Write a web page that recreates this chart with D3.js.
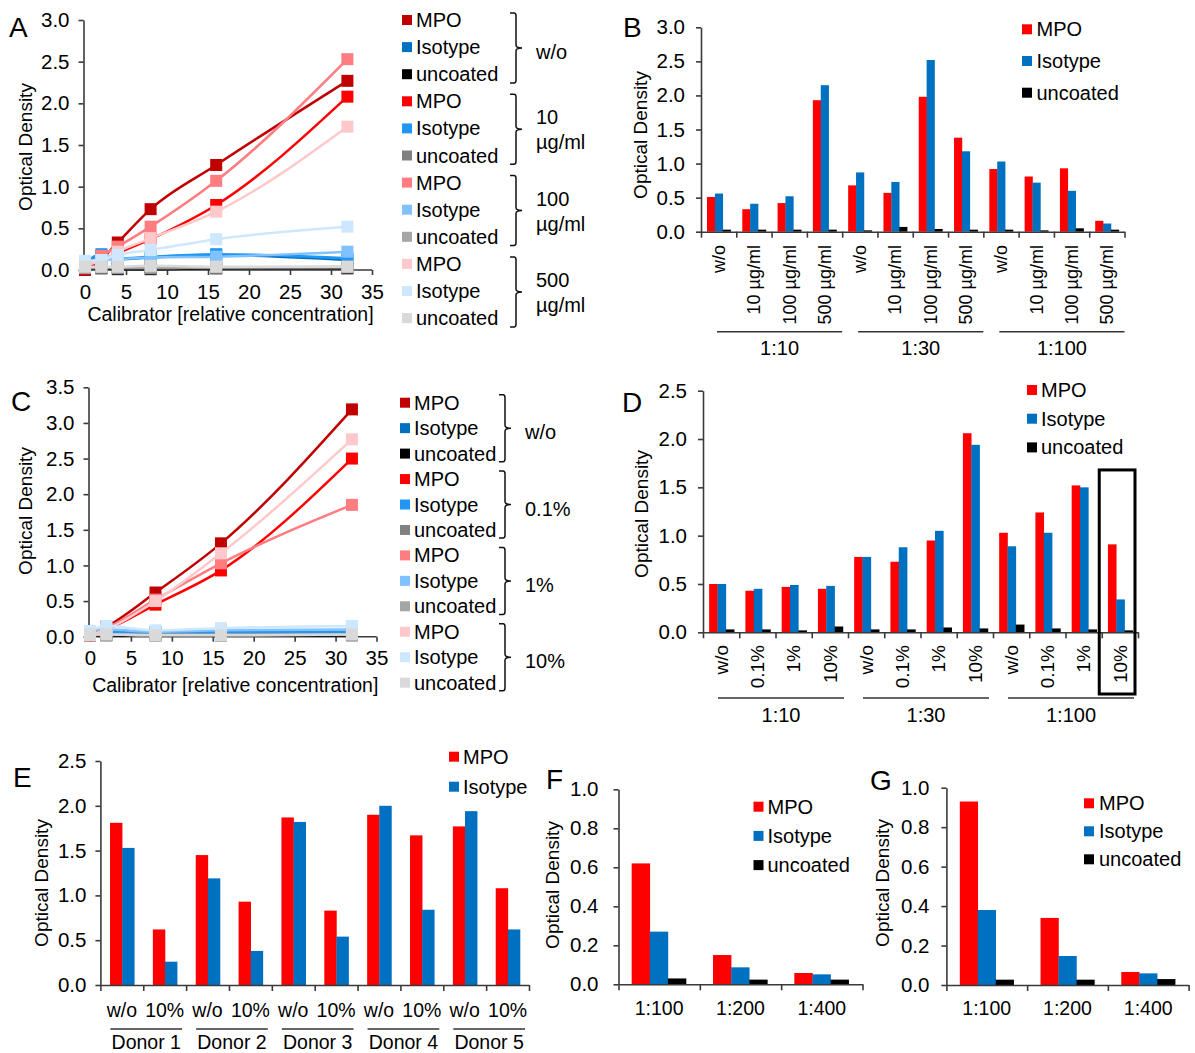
<!DOCTYPE html>
<html><head><meta charset="utf-8">
<script src="https://cdn.jsdelivr.net/npm/d3@7"></script>
<style>body{margin:0;background:#fff}</style></head>
<body>
<svg id="c" width="1195" height="1053"></svg>
<script>
// ---------------- DATA ----------------
const seriesTypes = ["MPO", "Isotype", "uncoated"];

// Panel A (calibrator curves, coating additive concentrations)
const calibA = [0, 2, 4, 8, 16, 32];
const condA = [["w/o"], ["10", "µg/ml"], ["100", "µg/ml"], ["500", "µg/ml"]];
const mpoA_wo  = [0.00, 0.13, 0.33, 0.73, 1.26, 2.27];
const isoA_wo  = [0.09, 0.17, 0.13, 0.15, 0.18, 0.12];
const uncA_wo  = [0.02, 0.02, 0.01, 0.01, 0.02, 0.02];
const mpoA_10  = [0.02, 0.10, 0.20, 0.37, 0.78, 2.08];
const isoA_10  = [0.08, 0.19, 0.14, 0.16, 0.19, 0.14];
const uncA_10  = [0.02, 0.03, 0.02, 0.02, 0.03, 0.03];
const mpoA_100 = [0.03, 0.17, 0.28, 0.52, 1.07, 2.53];
const isoA_100 = [0.08, 0.12, 0.13, 0.15, 0.16, 0.22];
const uncA_100 = [0.03, 0.03, 0.03, 0.03, 0.03, 0.04];
const mpoA_500 = [0.05, 0.12, 0.22, 0.38, 0.70, 1.72];
const isoA_500 = [0.11, 0.12, 0.18, 0.24, 0.37, 0.52];
const uncA_500 = [0.04, 0.04, 0.04, 0.05, 0.04, 0.04];

// Panel B
const catsB = ["w/o", "10 µg/ml", "100 µg/ml", "500 µg/ml", "w/o", "10 µg/ml", "100 µg/ml", "500 µg/ml", "w/o", "10 µg/ml", "100 µg/ml", "500 µg/ml"];
const groupsB = ["1:10", "1:30", "1:100"];
const mpoB = [0.51, 0.33, 0.42, 1.93, 0.68, 0.57, 1.98, 1.38, 0.92, 0.81, 0.93, 0.16];
const isoB = [0.56, 0.41, 0.52, 2.15, 0.87, 0.73, 2.52, 1.18, 1.03, 0.72, 0.60, 0.12];
const uncB = [0.03, 0.03, 0.03, 0.03, 0.02, 0.07, 0.04, 0.03, 0.03, 0.02, 0.05, 0.03];

// Panel C
const calibC = [0, 2, 8, 16, 32];
const condC = [["w/o"], ["0.1%"], ["1%"], ["10%"]];
const mpoC_wo  = [0.03, 0.14, 0.62, 1.31, 3.19];
const isoC_wo  = [0.07, 0.08, 0.05, 0.06, 0.06];
const uncC_wo  = [0.02, 0.02, 0.02, 0.02, 0.02];
const mpoC_01  = [0.02, 0.10, 0.45, 0.93, 2.50];
const isoC_01  = [0.06, 0.07, 0.06, 0.07, 0.07];
const uncC_01  = [0.02, 0.03, 0.02, 0.02, 0.03];
const mpoC_1   = [0.03, 0.12, 0.52, 1.03, 1.85];
const isoC_1   = [0.08, 0.10, 0.07, 0.09, 0.10];
const uncC_1   = [0.03, 0.03, 0.03, 0.03, 0.03];
const mpoC_10  = [0.02, 0.10, 0.50, 1.17, 2.77];
const isoC_10  = [0.08, 0.15, 0.09, 0.12, 0.15];
const uncC_10  = [0.03, 0.03, 0.02, 0.02, 0.03];

// Panel D
const catsD = ["w/o", "0.1%", "1%", "10%", "w/o", "0.1%", "1%", "10%", "w/o", "0.1%", "1%", "10%"];
const groupsD = ["1:10", "1:30", "1:100"];
const mpoD = [0.50, 0.43, 0.47, 0.45, 0.78, 0.73, 0.95, 2.06, 1.03, 1.24, 1.52, 0.91];
const isoD = [0.50, 0.45, 0.49, 0.48, 0.78, 0.88, 1.05, 1.94, 0.89, 1.03, 1.50, 0.34];
const uncD = [0.03, 0.03, 0.02, 0.06, 0.03, 0.03, 0.05, 0.04, 0.08, 0.04, 0.03, 0.02];

// Panel E
const catsE = ["w/o", "10%", "w/o", "10%", "w/o", "10%", "w/o", "10%", "w/o", "10%"];
const groupsE = ["Donor 1", "Donor 2", "Donor 3", "Donor 4", "Donor 5"];
const mpoE = [1.81, 0.62, 1.45, 0.93, 1.87, 0.83, 1.90, 1.67, 1.77, 1.08];
const isoE = [1.53, 0.26, 1.19, 0.38, 1.82, 0.54, 2.00, 0.84, 1.94, 0.62];

// Panel F
const catsF = ["1:100", "1:200", "1:400"];
const mpoF = [0.62, 0.15, 0.058];
const isoF = [0.27, 0.087, 0.051];
const uncF = [0.03, 0.024, 0.024];

// Panel G
const catsG = ["1:100", "1:200", "1:400"];
const mpoG = [0.93, 0.34, 0.066];
const isoG = [0.38, 0.147, 0.059];
const uncG = [0.027, 0.027, 0.03];

// ---------------- STYLE ----------------
const FONT = "'Liberation Sans', Arial, Helvetica, sans-serif";
const AX = "#3a3a3a";
const RED = "#ff0000", BLUE = "#0070c0", BLACK = "#000000";
const shades = [
  ["#c00000", "#0070c0", "#000000"],
  ["#ff0000", "#2196f3", "#808080"],
  ["#ff7c80", "#80c2ff", "#a6a6a6"],
  ["#ffc9cc", "#cde7ff", "#d9d9d9"]
];

const svg = d3.select("#c");
svg.append("rect").attr("width", 1195).attr("height", 1053).attr("fill", "#fff");

function text(x, y, s, size, anchor) {
  return svg.append("text").attr("x", x).attr("y", y).attr("font-family", FONT)
    .attr("font-size", size).attr("text-anchor", anchor || "start").attr("fill", "#000").text(s);
}
function panelLetter(x, y, s) { text(x, y, s, 28); }
function yTitle(x, y, s) {
  svg.append("text").attr("transform", `translate(${x},${y}) rotate(-90)`)
    .attr("text-anchor", "middle").attr("dy", "0.35em").attr("font-family", FONT)
    .attr("font-size", 19).attr("fill", "#000").text(s);
}
function styleAxis(sel, fs) {
  sel.select(".domain").attr("stroke", AX).attr("stroke-width", 1.6);
  sel.selectAll(".tick line").attr("stroke", AX).attr("stroke-width", 1.6);
  sel.selectAll("text").attr("font-family", FONT).attr("font-size", fs).attr("fill", "#000");
}
function yAxis(x0, y, ticks, pad) {
  const g = svg.append("g").attr("transform", `translate(${x0},0)`)
    .call(d3.axisLeft(y).tickValues(ticks).tickSize(5).tickSizeOuter(0).tickPadding(pad || 9).tickFormat(d3.format(".1f")));
  styleAxis(g, 20.5);
}
function legend(swX, txX, y0, dy, items, fs) {
  items.forEach((it, i) => {
    const yy = y0 + i * dy;
    svg.append("rect").attr("x", swX).attr("y", yy - 5).attr("width", 10).attr("height", 10).attr("fill", it.color);
    text(txX, yy, it.label, fs).attr("dy", "0.35em");
  });
}

function barPanel(o) {
  const y = d3.scaleLinear().domain([0, o.yMax]).range([o.bottom, o.top]);
  const band = d3.scaleBand().domain(d3.range(o.n)).range([o.left, o.right]);
  const bw = band.bandwidth();
  const sub = d3.scaleBand().domain(d3.range(o.series.length)).range([bw * o.frac[0], bw * o.frac[1]]);
  o.series.forEach((s, si) => {
    svg.append("g").selectAll("rect").data(s.values).join("rect")
      .attr("x", (d, i) => band(i) + sub(si)).attr("width", sub.bandwidth() + 0.3)
      .attr("y", d => y(d)).attr("height", d => y(0) - y(d)).attr("fill", s.color);
  });
  yAxis(o.left, y, d3.range(0, o.yMax + 1e-9, o.yStep), o.pad);
  const xi = d3.scaleLinear().domain([0, o.n]).range([o.left, o.right]);
  const gx = svg.append("g").attr("transform", `translate(0,${y(0)})`)
    .call(d3.axisBottom(xi).tickValues(d3.range(o.n + 1)).tickSize(6).tickSizeOuter(0).tickFormat(""));
  styleAxis(gx, 0);
  return { y, band };
}
function rotatedLabels(band, cats, y0, fs) {
  cats.forEach((c, i) => {
    svg.append("text").attr("transform", `translate(${band(i) + band.bandwidth() / 2},${y0}) rotate(-90)`)
      .attr("text-anchor", "end").attr("dy", "0.35em").attr("font-family", FONT)
      .attr("font-size", fs).attr("fill", "#000").text(c);
  });
}
function horizLabels(band, cats, y0, fs) {
  cats.forEach((c, i) => text(band(i) + band.bandwidth() / 2, y0, c, fs, "middle"));
}
function groupLines(band, size, groups, lineY, labelY, inL, inR, fs) {
  groups.forEach((gname, gi) => {
    const a = band(gi * size) + inL;
    const b = band(gi * size + size - 1) + band.bandwidth() - inR;
    svg.append("line").attr("x1", a).attr("x2", b).attr("y1", lineY).attr("y2", lineY)
      .attr("stroke", "#333").attr("stroke-width", 1.6);
    text((a + b) / 2, labelY, gname, fs, "middle");
  });
}

function linePanel(o) {
  const x = d3.scaleLinear().domain([0, 35]).range([o.x0, o.x35]);
  const y = d3.scaleLinear().domain([0, o.yMax]).range([o.bottom, o.top]);
  yAxis(x(0) - 1.5, y, d3.range(0, o.yMax + 1e-9, 0.5));
  const gx = svg.append("g").attr("transform", `translate(0,${y(0)})`)
    .call(d3.axisBottom(x).tickValues(d3.range(0, 36, 5)).tickSize(5).tickSizeOuter(0).tickPadding(9).tickFormat(d3.format("d")));
  styleAxis(gx, 20.5);
  gx.select(".domain").attr("d", `M${x(0) - 1.5},0H${x(35)}`);
  const line = d3.line().x((d, i) => x(o.xs[i])).y(d => y(d)).curve(d3.curveMonotoneX);
  o.series.forEach(s => {
    svg.append("path").datum(s.values).attr("d", line).attr("fill", "none")
      .attr("stroke", s.color).attr("stroke-width", 2.5);
    svg.append("g").selectAll("rect").data(s.values).join("rect")
      .attr("x", (d, i) => x(o.xs[i]) - 6).attr("y", d => y(d) - 6)
      .attr("width", 12).attr("height", 12).attr("fill", s.color);
  });
  text((o.x0 + o.x35) / 2 + 2, o.titleY, "Calibrator [relative concentration]", 19.5, "middle");
}
function condLegend(o) {
  o.conds.forEach((cond, ci) => {
    seriesTypes.forEach((t, ti) => {
      const yy = o.row0 + (ci * 3 + ti) * o.dy;
      svg.append("rect").attr("x", o.swX).attr("y", yy - 5).attr("width", 10).attr("height", 10).attr("fill", shades[ci][ti]);
      text(o.txX, yy, t, 20).attr("dy", "0.35em");
    });
    const top = o.row0 + ci * 3 * o.dy - o.topOff;
    const bot = top + o.bh;
    const mid = (top + bot) / 2;
    const bx = o.bx;
    svg.append("path")
      .attr("d", `M${bx - 6},${top}L${bx - 2},${top}Q${bx},${top} ${bx},${top + 3}L${bx},${mid - 3}Q${bx},${mid} ${bx + 6},${mid}Q${bx},${mid} ${bx},${mid + 3}L${bx},${bot - 3}Q${bx},${bot} ${bx - 2},${bot}L${bx - 6},${bot}`)
      .attr("fill", "none").attr("stroke", "#111").attr("stroke-width", 1.5);
    if (cond.length === 1) {
      text(o.labX, mid + 4, cond[0], 20).attr("dy", "0.35em");
    } else {
      text(o.labX, mid - 12, cond[0], 20).attr("dy", "0.35em");
      text(o.labX, mid + 13, cond[1], 20).attr("dy", "0.35em");
    }
  });
}
function lineSeries(mpo, iso, unc) {
  // drawn in legend order (w/o first ... highest concentration last)
  const out = [];
  for (let ci = 0; ci < 4; ci++) {
    out.push({ values: mpo[ci], color: shades[ci][0] });
    out.push({ values: iso[ci], color: shades[ci][1] });
    out.push({ values: unc[ci], color: shades[ci][2] });
  }
  return out;
}

// ---------------- PANEL A ----------------
linePanel({ x0: 85, x35: 372, top: 20, bottom: 270, yMax: 3, xs: calibA, titleY: 321,
  series: lineSeries([mpoA_wo, mpoA_10, mpoA_100, mpoA_500], [isoA_wo, isoA_10, isoA_100, isoA_500], [uncA_wo, uncA_10, uncA_100, uncA_500]) });
panelLetter(9, 37, "A");
yTitle(25, 147, "Optical Density");
condLegend({ conds: condA, swX: 402, txX: 416, row0: 20, dy: 27.1, topOff: 7, bh: 70, bx: 516, labX: 536 });

// ---------------- PANEL C ----------------
linePanel({ x0: 90, x35: 376.5, top: 387.3, bottom: 636.7, yMax: 3.5, xs: calibC, titleY: 692,
  series: lineSeries([mpoC_wo, mpoC_01, mpoC_1, mpoC_10], [isoC_wo, isoC_01, isoC_1, isoC_10], [uncC_wo, uncC_01, uncC_1, uncC_10]) });
panelLetter(11, 411, "C");
yTitle(25, 511, "Optical Density");
condLegend({ conds: condC, swX: 400, txX: 414, row0: 402.7, dy: 25.45, topOff: 8, bh: 67, bx: 505, labX: 525 });

// ---------------- PANEL B ----------------
{
  const p = barPanel({ left: 701, right: 1124.5, top: 27.3, bottom: 231.7, yMax: 3, yStep: 0.5, n: catsB.length, frac: [0.17, 0.84], pad: 11,
    series: [{ values: mpoB, color: RED }, { values: isoB, color: BLUE }, { values: uncB, color: BLACK }] });
  rotatedLabels(p.band, catsB, 245, 18);
  groupLines(p.band, 4, groupsB, 331.7, 355, 16, 0, 20);
  panelLetter(623, 37, "B");
  yTitle(640, 135, "Optical Density");
  legend(1022, 1036.5, 29.3, 31.7, [{ label: "MPO", color: RED }, { label: "Isotype", color: BLUE }, { label: "uncoated", color: BLACK }], 20);
}

// ---------------- PANEL D ----------------
{
  const p = barPanel({ left: 703, right: 1138, top: 390.7, bottom: 632.3, yMax: 2.5, yStep: 0.5, n: catsD.length, frac: [0.17, 0.86], pad: 11,
    series: [{ values: mpoD, color: RED }, { values: isoD, color: BLUE }, { values: uncD, color: BLACK }] });
  rotatedLabels(p.band, catsD, 645, 19);
  groupLines(p.band, 4, groupsD, 698, 722, 15, 4, 20);
  // highlighted last category
  const hi = catsD.length - 1, hiTop = 1.68;
  svg.append("rect").attr("x", p.band(hi) - 2.5).attr("y", p.y(hiTop))
    .attr("width", p.band.bandwidth() - 0.5).attr("height", 694 - p.y(hiTop))
    .attr("fill", "none").attr("stroke", "#000").attr("stroke-width", 3);
  panelLetter(622, 412, "D");
  yTitle(641, 514, "Optical Density");
  legend(1027, 1041, 390, 28.7, [{ label: "MPO", color: RED }, { label: "Isotype", color: BLUE }, { label: "uncoated", color: BLACK }], 20);
}

// ---------------- PANEL E ----------------
{
  const p = barPanel({ left: 100.4, right: 529, top: 761, bottom: 985, yMax: 2.5, yStep: 0.5, n: catsE.length, frac: [0.224, 0.79], pad: 9,
    series: [{ values: mpoE, color: RED }, { values: isoE, color: BLUE }] });
  horizLabels(p.band, catsE, 1017, 19.5);
  groupLines(p.band, 2, groupsE, 1029, 1049, 10, 4, 19.5);
  panelLetter(13, 787, "E");
  yTitle(41.5, 883, "Optical Density");
  legend(449, 463, 756.7, 30, [{ label: "MPO", color: RED }, { label: "Isotype", color: BLUE }], 20);
}

// ---------------- PANEL F ----------------
{
  const p = barPanel({ left: 618.5, right: 862.5, top: 789.3, bottom: 984.3, yMax: 1.0, yStep: 0.2, n: catsF.length, frac: [0.162, 0.83], pad: 15,
    series: [{ values: mpoF, color: RED }, { values: isoF, color: BLUE }, { values: uncF, color: BLACK }] });
  horizLabels(p.band, catsF, 1015, 19.5);
  panelLetter(546, 789, "F");
  yTitle(552.5, 885, "Optical Density");
  legend(753.5, 767.5, 806.7, 29.2, [{ label: "MPO", color: RED }, { label: "Isotype", color: BLUE }, { label: "uncoated", color: BLACK }], 20);
}

// ---------------- PANEL G ----------------
{
  const p = barPanel({ left: 946.4, right: 1188.6, top: 787.7, bottom: 985, yMax: 1.0, yStep: 0.2, n: catsG.length, frac: [0.166, 0.833], pad: 12,
    series: [{ values: mpoG, color: RED }, { values: isoG, color: BLUE }, { values: uncG, color: BLACK }] });
  horizLabels(p.band, catsG, 1015, 19.5);
  panelLetter(870, 790, "G");
  yTitle(882, 883, "Optical Density");
  legend(1084, 1099, 803.3, 28, [{ label: "MPO", color: RED }, { label: "Isotype", color: BLUE }, { label: "uncoated", color: BLACK }], 20);
}
</script>
</body></html>
